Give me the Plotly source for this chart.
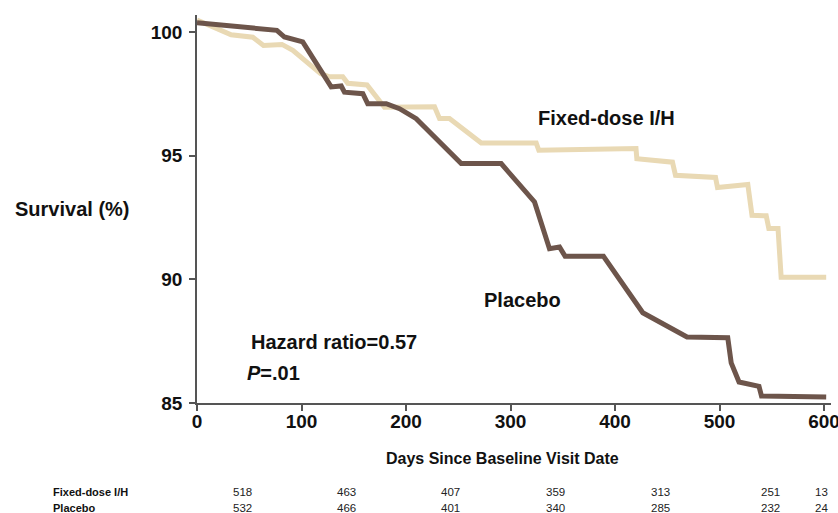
import plotly.graph_objects as go

# ---- data ----
fixed_days = [0, 32.7, 53.4, 63.6, 81.3, 91.7, 118.2, 126.8, 139.5, 144.3, 162.7, 179.4,
              227.3, 232.1, 241.6, 272.0, 324.6, 327.1, 420.1, 420.9, 455.0, 457.9,
              496.2, 498.1, 527.1, 531.1, 544.7, 547.2, 556.0, 559.0, 602.1]
fixed_surv = [100.49, 99.89, 99.79, 99.46, 99.50, 99.26, 98.32, 98.19, 98.19, 97.93, 97.86, 96.96,
              96.98, 96.50, 96.50, 95.51, 95.51, 95.22, 95.29, 94.88, 94.74, 94.21,
              94.12, 93.71, 93.84, 92.59, 92.57, 92.06, 92.06, 90.09, 90.09]

placebo_days = [0, 76.4, 83.7, 101.2, 128.4, 138.0, 141.1, 158.7, 163.4, 181.1, 193.8, 209.8,
                252.8, 291.1, 323.0, 337.3, 346.9, 352.3, 389.0, 426.6, 468.9, 507.9,
                511.2, 518.7, 537.8, 540.2, 602.1]
placebo_surv = [100.38, 100.07, 99.80, 99.60, 97.78, 97.82, 97.57, 97.51, 97.10, 97.10, 96.90, 96.50,
                94.68, 94.68, 93.13, 91.24, 91.31, 90.93, 90.93, 88.65, 87.67, 87.64,
                86.62, 85.85, 85.67, 85.28, 85.24]

x_ticks = [0, 100, 200, 300, 400, 500, 600]
y_ticks = [85, 90, 95, 100]

table_groups = ["Fixed-dose I/H", "Placebo"]
table_fixed = [518, 463, 407, 359, 313, 251, 13]
table_placebo = [532, 466, 401, 340, 285, 232, 24]
table_x_days = [43.5, 143.1, 242.6, 343.1, 443.5, 548.8, 597.6]   # column positions (days)

FONT = "Liberation Sans, Arial, sans-serif"
BEIGE = "#E9D9B4"
BROWN = "#6D554B"
AXIS = "#555555"

fig = go.Figure()
fig.add_trace(go.Scatter(x=fixed_days, y=fixed_surv, mode="lines",
                         line=dict(color=BEIGE, width=5), showlegend=False, hoverinfo="skip"))
fig.add_trace(go.Scatter(x=placebo_days, y=placebo_surv, mode="lines",
                         line=dict(color=BROWN, width=5), showlegend=False, hoverinfo="skip"))

tickfont = dict(family=FONT, size=19, color="#111111", weight="bold")
fig.update_xaxes(range=[0, 606.7], tickvals=x_ticks, ticktext=[str(v) for v in x_ticks],
                 showline=True, linecolor=AXIS, linewidth=1.5, ticks="outside", ticklen=6,
                 tickcolor=AXIS, tickwidth=1.5, showgrid=False, zeroline=False,
                 tickfont=tickfont, ticklabelstandoff=-6, ticklabeloverflow="allow",
                 automargin=False)
fig.update_yaxes(range=[85, 100.69], tickvals=y_ticks, ticktext=[str(v) for v in y_ticks],
                 showline=True, linecolor=AXIS, linewidth=1.5, ticks="outside", ticklen=6,
                 tickcolor=AXIS, tickwidth=1.5, showgrid=False, zeroline=False,
                 tickfont=tickfont, ticklabelstandoff=3, automargin=False)

ann_font = dict(family=FONT, size=20, color="#111111", weight="bold")
annotations = [
    dict(x=391.6, y=96.54, xref="x", yref="y", text="Fixed-dose I/H", showarrow=False,
         font=ann_font, xanchor="center", yanchor="middle"),
    dict(x=311.5, y=89.15, xref="x", yref="y", text="Placebo", showarrow=False,
         font=ann_font, xanchor="center", yanchor="middle"),
    dict(x=50.2, y=87.46, xref="x", yref="y", text="Hazard ratio=0.57", showarrow=False,
         font=ann_font, xanchor="left", yanchor="middle"),
    dict(x=45.5, y=86.21, xref="x", yref="y", text="<i>P</i>=.01", showarrow=False,
         font=ann_font, xanchor="left", yanchor="middle"),
    dict(x=-0.1976, y=0.5, xref="paper", yref="paper", text="Survival (%)", showarrow=False,
         font=ann_font, xanchor="center", yanchor="middle"),
    dict(x=(502.5 - 197) / 634, y=-0.1425, xref="paper", yref="paper",
         text="Days Since Baseline Visit Date", showarrow=False,
         font=dict(family=FONT, size=16, color="#111111", weight="bold"),
         xanchor="center", yanchor="middle"),
]

row_y = [(403 - 492) / 388, (403 - 507.5) / 388]
for name, vals, ry in zip(table_groups, [table_fixed, table_placebo], row_y):
    annotations.append(dict(x=(52 - 197) / 634, y=ry, xref="paper", yref="paper", text=name,
                            showarrow=False, xanchor="left", yanchor="middle", borderpad=0,
                            font=dict(family=FONT, size=11, color="#111111", weight="bold")))
    for xd, v in zip(table_x_days, vals):
        annotations.append(dict(x=xd, y=ry, xref="x", yref="paper", text=str(v),
                                showarrow=False, xanchor="center", yanchor="middle", borderpad=0,
                                font=dict(family=FONT, size=11.5, color="#222222")))

fig.update_layout(width=838, height=513, margin=dict(l=197, r=7, t=15, b=110, autoexpand=False),
                  paper_bgcolor="white", plot_bgcolor="white", annotations=annotations)

fig.write_html("out.html")
